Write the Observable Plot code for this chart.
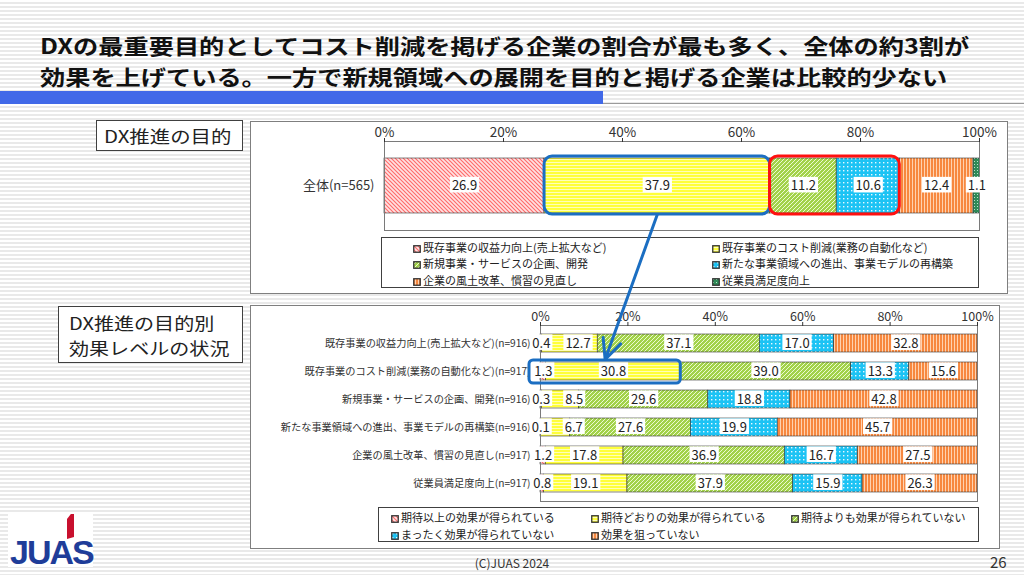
<!DOCTYPE html>
<html><head><meta charset="utf-8">
<script src="https://cdn.jsdelivr.net/npm/d3@7"></script>
<script src="https://cdn.jsdelivr.net/npm/@observablehq/plot@0.6"></script>
<style>
html,body{margin:0;padding:0;}
body{width:1024px;height:575px;position:relative;overflow:hidden;font-family:"Noto Sans CJK JP","Noto Sans",sans-serif;color:#222;
 background:repeating-linear-gradient(to bottom,#ffffff 0px,#ffffff 2px,#e9e9e9 2px,#e9e9e9 4px);}
.abs{position:absolute;}
.box{position:absolute;background:#fff;box-sizing:border-box;}
.sx{display:inline-block;white-space:nowrap;transform-origin:0 50%;}
.leg{position:absolute;font-size:11px;white-space:nowrap;line-height:14px;color:#222;}
.leg svg{vertical-align:-1px;margin-right:2px;}
</style></head>
<body>
<svg width="0" height="0" style="position:absolute">
 <defs>
  <pattern id="p-red" patternUnits="userSpaceOnUse" width="4" height="4">
   <rect width="4" height="4" fill="#ffe2e2"/>
   <path d="M0,0L4,4M-1,3L1,5M3,-1L5,1" stroke="#ff6a6a" stroke-width="1.1"/>
  </pattern>
  <pattern id="p-yel" patternUnits="userSpaceOnUse" width="4" height="3">
   <rect width="4" height="3" fill="#ffff3a"/>
   <rect y="2" width="4" height="1" fill="#ffffb8"/>
  </pattern>
  <pattern id="p-grn" patternUnits="userSpaceOnUse" width="4" height="4">
   <rect width="4" height="4" fill="#a2d24a"/>
   <path d="M0,4L4,0M-1,1L1,-1M3,5L5,3" stroke="#f4ffe0" stroke-width="0.9"/>
  </pattern>
  <pattern id="p-cyn" patternUnits="userSpaceOnUse" width="4" height="4">
   <rect width="4" height="4" fill="#1cc3f4"/>
   <rect x="1" y="1" width="1.4" height="1.4" fill="#e8f8ff"/>
  </pattern>
  <pattern id="p-org" patternUnits="userSpaceOnUse" width="3" height="3">
   <rect width="3" height="3" fill="#f7883f"/>
   <rect x="2" width="1" height="3" fill="#ffd2b0"/>
  </pattern>
  <pattern id="p-dkg" patternUnits="userSpaceOnUse" width="3" height="3">
   <rect width="3" height="3" fill="#2f8a58"/>
   <rect x="1" y="1" width="1" height="1" fill="#b8e0c8"/>
  </pattern>
 </defs>
</svg>

<div id="title" class="abs" style="left:40px;top:30px;font-size:21px;font-weight:700;line-height:31px;color:#111;"></div>
<div class="abs" style="left:0;top:91px;width:603px;height:13px;background:#4169e8;"></div>
<div class="abs" style="left:603px;top:103px;width:421px;height:1px;background:#9a9a9a;"></div>

<div class="box" style="left:250px;top:121px;width:758px;height:173px;border:1px solid #7f7f7f;"></div>
<div class="box" style="left:96px;top:120px;width:147px;height:31px;border:1px solid #404040;padding-left:7px;line-height:29px;font-size:17px;">
 <span id="lab1" class="sx" style="transform:scaleX(1.2);"></span></div>
<div id="p1" class="abs" style="left:250px;top:121px;width:758px;height:110px;"></div>
<div id="leg1" class="box" style="left:381px;top:237px;width:598px;height:51px;border:1px solid #404040;"></div>

<div class="box" style="left:250px;top:305px;width:750px;height:244px;border:1px solid #7f7f7f;"></div>
<div class="box" style="left:58px;top:306px;width:185px;height:57px;border:1px solid #404040;padding:3px 0 0 10px;line-height:25px;font-size:17px;">
 <span id="lab2a" class="sx" style="transform:scaleX(1.18);"></span><br><span id="lab2b" class="sx" style="transform:scaleX(1.18);"></span></div>
<div id="p2" class="abs" style="left:250px;top:306px;width:750px;height:196px;"></div>
<div id="leg2" class="box" style="left:378px;top:507px;width:601px;height:35px;border:1px solid #404040;"></div>

<div class="box" style="left:8px;top:514px;width:85px;height:53px;"></div>
<div class="abs" style="left:10px;top:535px;font-family:'Liberation Sans',Arial,sans-serif;font-weight:700;font-size:34px;letter-spacing:-2px;color:#1f3d99;line-height:34px;">JUAS</div>
<div class="abs" style="left:67px;top:514px;width:7px;height:25px;background:#c8102e;clip-path:polygon(55% 0,100% 0,100% 92%,0 100%,0 20%);"></div>

<div id="copy" class="abs" style="left:0;width:1024px;top:554px;text-align:center;font-size:12px;color:#333;"></div>
<div id="page" class="abs" style="left:990px;top:551px;font-size:15px;color:#333;"></div>

<script>
// ---------- data ----------
const titleLines = ["DXの最重要目的としてコスト削減を掲げる企業の割合が最も多く、全体の約3割が",
                    "効果を上げている。一方で新規領域への展開を目的と掲げる企業は比較的少ない"];
const panel1Label = "DX推進の目的";
const panel2Label = ["DX推進の目的別", "効果レベルの状況"];
const copyright = "(C)JUAS 2024";
const pageNumber = "26";

const xTicks = [0, 20, 40, 60, 80, 100];

const purposeSeries = ["既存事業の収益力向上(売上拡大など)", "既存事業のコスト削減(業務の自動化など)",
  "新規事業・サービスの企画、開発", "新たな事業領域への進出、事業モデルの再構築",
  "企業の風土改革、慣習の見直し", "従業員満足度向上"];
const overallLabel = "全体(n=565)";
const overallValues = [26.9, 37.9, 11.2, 10.6, 12.4, 1.1];

const effectSeries = ["期待以上の効果が得られている", "期待どおりの効果が得られている", "期待よりも効果が得られていない",
  "まったく効果が得られていない", "効果を狙っていない"];
const purposeCategories = ["既存事業の収益力向上(売上拡大など)(n=916)", "既存事業のコスト削減(業務の自動化など)(n=917)",
  "新規事業・サービスの企画、開発(n=916)", "新たな事業領域への進出、事業モデルの再構築(n=916)",
  "企業の風土改革、慣習の見直し(n=917)", "従業員満足度向上(n=917)"];
const effRevenue  = [0.4, 12.7, 37.1, 17.0, 32.8];
const effCost     = [1.3, 30.8, 39.0, 13.3, 15.6];
const effNewBiz   = [0.3, 8.5, 29.6, 18.8, 42.8];
const effNewField = [0.1, 6.7, 27.6, 19.9, 45.7];
const effCulture  = [1.2, 17.8, 36.9, 16.7, 27.5];
const effEmployee = [0.8, 19.1, 37.9, 15.9, 26.3];
const effectRows = [effRevenue, effCost, effNewBiz, effNewField, effCulture, effEmployee];

// highlights: panel1 blue = series 1, red = series 2..3; panel2 blue = category 1, series 0..1
const hlBlueSeries1 = [1, 1];
const hlRedSeries1 = [2, 3];
const hlCat2 = 1;
const hlBlueSeries2 = [0, 1];

const purposePatterns = ["url(#p-red)", "url(#p-yel)", "url(#p-grn)", "url(#p-cyn)", "url(#p-org)", "url(#p-dkg)"];
const effectPatterns = ["url(#p-red)", "url(#p-yel)", "url(#p-grn)", "url(#p-cyn)", "url(#p-org)"];

// ---------- text ----------
const FONT = '"Noto Sans CJK JP","Noto Sans",sans-serif';
const BLUE = "#1b6ec2", RED = "#ff1010";
const LABEL_FS = 13;
document.getElementById("title").innerHTML = titleLines.map(t => `<span class="sx" style="transform:scaleX(1.2)">${t}</span>`).join("<br>");
document.getElementById("lab1").textContent = panel1Label;
document.getElementById("lab2a").textContent = panel2Label[0];
document.getElementById("lab2b").textContent = panel2Label[1];
document.getElementById("copy").textContent = copyright;
document.getElementById("page").textContent = pageNumber;

// ---------- helpers ----------
const ctx = document.createElement("canvas").getContext("2d");
ctx.font = `${LABEL_FS}px ${FONT}`;
const fmt = v => v.toFixed(1);
// label positions: segment centres, nudged right (in data units) when a label box would crowd the previous one
function rowLabels(cat, values, pxPerUnit, gapPx) {
  const cum = [0, ...d3.cumsum(values)];
  let prevRight = -Infinity;
  return values.map((v, i) => {
    const w = (ctx.measureText(fmt(v)).width + 4) / pxPerUnit;
    let x = (cum[i] + cum[i + 1]) / 2;
    const minLeft = prevRight + gapPx / pxPerUnit;
    if (x - w / 2 < minLeft) x = minLeft + w / 2;
    prevRight = x + w / 2;
    return {cat, x, text: fmt(v)};
  });
}
function labelBoxes(svg, fs) {
  svg.querySelectorAll('g[aria-label="text"] text').forEach(t => {
    const b = t.getBBox();
    const r = document.createElementNS("http://www.w3.org/2000/svg", "rect");
    const h = fs * 1.2;
    r.setAttribute("x", b.x - 2); r.setAttribute("y", b.y + b.height / 2 - h / 2);
    r.setAttribute("width", b.width + 4); r.setAttribute("height", h);
    r.setAttribute("fill", "#fff"); r.setAttribute("stroke", "none");
    if (t.getAttribute("transform")) r.setAttribute("transform", t.getAttribute("transform"));
    t.parentNode.insertBefore(r, t);
  });
}
function legend(el, names, pats, cols, rowsY) {
  names.forEach((n, i) => {
    const d = document.createElement("div");
    d.className = "leg";
    d.style.left = cols[i % cols.length] + "px";
    d.style.top = (rowsY[Math.floor(i / cols.length)] - 7) + "px";
    d.innerHTML = `<svg width="8" height="8"><rect x="0.75" y="0.75" width="6.5" height="6.5" fill="${pats[i]}" stroke="#333" stroke-width="1.3"/></svg>${n}`;
    el.appendChild(d);
  });
}

// ---------- panel 1 ----------
const W1 = 758, ML1 = 134, MR1 = 29;
const overallData = purposeSeries.map((s, i) => ({cat: overallLabel, series: s, value: overallValues[i]}));
const overallLabels = rowLabels(overallLabel, overallValues, (W1 - ML1 - MR1) / 100, 2);
const cum1 = [0, ...d3.cumsum(overallValues)];
const hl1Blue = [{cat: overallLabel, x1: cum1[hlBlueSeries1[0]], x2: cum1[hlBlueSeries1[1] + 1]}];
const hl1Red = [{cat: overallLabel, x1: cum1[hlRedSeries1[0]], x2: cum1[hlRedSeries1[1] + 1]}];

const plot1 = Plot.plot({
  width: W1, height: 110, marginLeft: ML1, marginRight: MR1, marginTop: 20, marginBottom: 1,
  style: {fontFamily: FONT, background: "transparent", color: "#333", overflow: "visible"},
  x: {domain: [0, 100]},
  y: {domain: [overallLabel], paddingInner: 0.3, paddingOuter: 0.216},
  color: {type: "ordinal", domain: purposeSeries, range: purposePatterns},
  marks: [
    Plot.barX(overallData, Plot.stackX({x: "value", y: "cat", fill: "series", stroke: "#333", strokeWidth: 0.6})),
    Plot.frame({stroke: "#7a7a7a"}),
    Plot.axisX({anchor: "top", ticks: xTicks, tickFormat: d => d + "%", tickSize: 4, tickPadding: 1, fontSize: 13.5, label: null}),
    Plot.axisY({tickSize: 0, tickPadding: 10, fontSize: 13, label: null}),
    Plot.text(overallLabels, {x: "x", y: "cat", text: "text", fontSize: LABEL_FS, fill: "#222"}),
    Plot.barX(hl1Blue, {x1: "x1", x2: "x2", y: "cat", fill: "none", stroke: BLUE, strokeWidth: 3, rx: 8, insetTop: -2, insetBottom: -1}),
    Plot.barX(hl1Red, {x1: "x1", x2: "x2", y: "cat", fill: "none", stroke: RED, strokeWidth: 3, rx: 8, insetTop: -2, insetBottom: -1})
  ]
});
document.getElementById("p1").appendChild(plot1);
labelBoxes(plot1, LABEL_FS);

// ---------- panel 2 ----------
const W2 = 750, ML2 = 290, MR2 = 23;
const effectData = purposeCategories.flatMap((c, i) => effectSeries.map((s, j) => ({cat: c, series: s, value: effectRows[i][j]})));
const effectLabels = purposeCategories.flatMap((c, i) => rowLabels(c, effectRows[i], (W2 - ML2 - MR2) / 100, 11));
const cum2 = [0, ...d3.cumsum(effectRows[hlCat2])];
const hl2Blue = [{cat: purposeCategories[hlCat2], x1: cum2[hlBlueSeries2[0]], x2: cum2[hlBlueSeries2[1] + 1]}];

const plot2 = Plot.plot({
  width: W2, height: 196, marginLeft: ML2, marginRight: MR2, marginTop: 19, marginBottom: 1,
  style: {fontFamily: FONT, background: "transparent", color: "#333", overflow: "visible"},
  x: {domain: [0, 100]},
  y: {domain: purposeCategories, paddingInner: 0.35, paddingOuter: 0.25},
  color: {type: "ordinal", domain: effectSeries, range: effectPatterns},
  marks: [
    Plot.barX(effectData, Plot.stackX({x: "value", y: "cat", fill: "series", stroke: "#333", strokeWidth: 0.6})),
    Plot.frame({stroke: "#7a7a7a"}),
    Plot.axisX({anchor: "top", ticks: xTicks, tickFormat: d => d + "%", tickSize: 4, tickPadding: 1, fontSize: 12.5, label: null}),
    Plot.axisY({tickSize: 0, tickPadding: 10, fontSize: 10.2, label: null}),
    Plot.text(effectLabels, {x: "x", y: "cat", text: "text", fontSize: LABEL_FS, fill: "#222"}),
    Plot.barX(hl2Blue, {x1: "x1", x2: "x2", y: "cat", fill: "none", stroke: BLUE, strokeWidth: 3, rx: 4, insetTop: -2, insetBottom: -3, insetLeft: -11})
  ]
});
document.getElementById("p2").appendChild(plot2);
labelBoxes(plot2, LABEL_FS);

// ---------- legends ----------
legend(document.getElementById("leg1"), purposeSeries, purposePatterns, [31, 330], [9, 25, 42]);
legend(document.getElementById("leg2"), effectSeries, effectPatterns, [12, 212, 412], [9, 26]);

// ---------- connecting arrow (from scales) ----------
const P1 = {left: 250, top: 121}, P2 = {left: 250, top: 306};
const sx1 = plot1.scale("x"), sy1 = plot1.scale("y"), sx2 = plot2.scale("x"), sy2 = plot2.scale("y");
const arrowData = [{
  x1: P1.left + (sx1.apply(hl1Blue[0].x1) + sx1.apply(hl1Blue[0].x2)) / 2,
  y1: P1.top + sy1.apply(overallLabel) + sy1.bandwidth + 1,
  x2: P2.left + (sx2.apply(hl2Blue[0].x1) - 11 + sx2.apply(hl2Blue[0].x2)) / 2,
  y2: P2.top + sy2.apply(hl2Blue[0].cat) - 3
}];
const overlay = Plot.plot({
  width: 1024, height: 575, margin: 0,
  style: {background: "transparent", position: "absolute", left: "0px", top: "0px", pointerEvents: "none", overflow: "visible"},
  x: {type: "identity", axis: null}, y: {type: "identity", axis: null},
  marks: [Plot.arrow(arrowData, {x1: "x1", y1: "y1", x2: "x2", y2: "y2", stroke: BLUE, strokeWidth: 3, headLength: 11, headAngle: 50})]
});
document.body.appendChild(overlay);
</script>
</body></html>
